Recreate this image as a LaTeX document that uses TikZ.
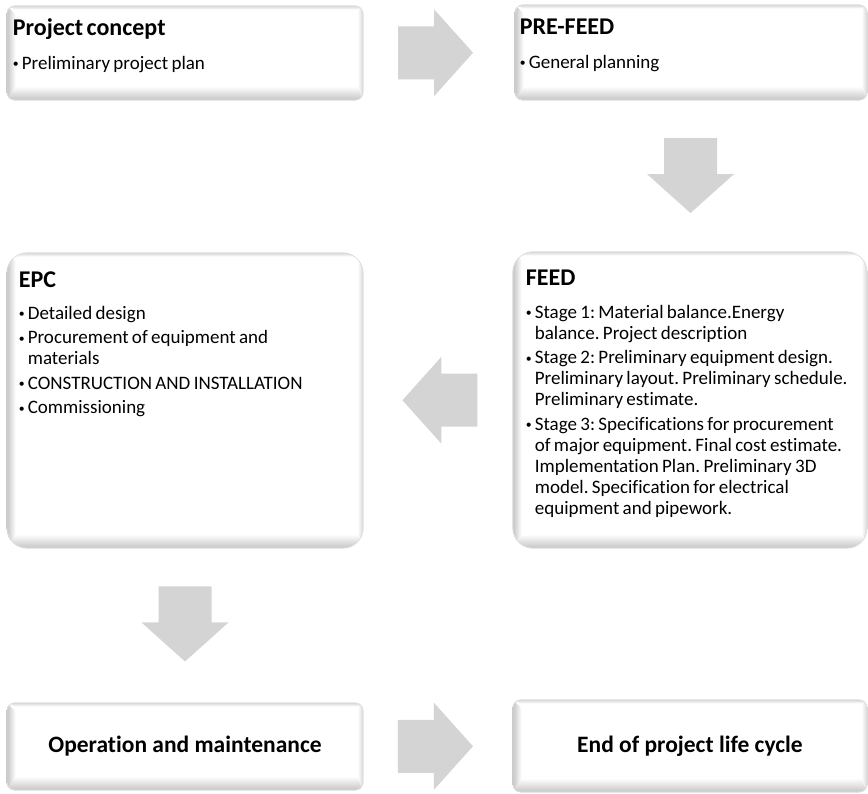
\documentclass[tikz,border=0pt]{standalone}
\usepackage{fontspec}
\setmainfont[Ligatures=NoCommon]{Carlito}
\usetikzlibrary{calc,backgrounds}

\definecolor{arrowgray}{RGB}{212,212,212}
\definecolor{bevelgray}{RGB}{196,196,196}
\definecolor{edgegray}{RGB}{222,222,222}

% text styles
\newcommand\stagetitle{\fontsize{24pt}{28pt}\selectfont\bfseries}
\newcommand\stagebody{\fontsize{19pt}{21pt}\selectfont\mdseries\frenchspacing\setlength\parskip{3.5pt}}
\newcommand\bitem[1]{\par\hangindent=9pt\hangafter=1\noindent
  \makebox[9pt][l]{\raisebox{1.7pt}{\scalebox{0.62}{\textbullet}}}#1}

% white panel with a soft bevel on its edges, drawn under the named node #1
\newcommand\bevel[2]{%
  \begin{scope}[on background layer]
    \fill[white, rounded corners=#2] (#1.north west) rectangle (#1.south east);
    \begin{scope}
      \clip[rounded corners=#2] (#1.north west) rectangle (#1.south east);
      \shade[left color=bevelgray, right color=white]
        (#1.north west) -- ($(#1.north west)+(9,9)$) -- ($(#1.south west)+(9,-14)$) -- (#1.south west) -- cycle;
      \shade[bottom color=bevelgray, top color=white]
        (#1.south west) -- ($(#1.south west)+(9,-14)$) -- ($(#1.south east)+(-6,-14)$) -- (#1.south east) -- cycle;
      \shade[top color=bevelgray!70, bottom color=white]
        (#1.north west) -- ($(#1.north west)+(9,4)$) -- ($(#1.north east)+(-5,4)$) -- (#1.north east) -- cycle;
      \shade[right color=bevelgray!70, left color=white]
        (#1.north east) -- ($(#1.north east)+(-5,4)$) -- ($(#1.south east)+(-6,-14)$) -- (#1.south east) -- cycle;
    \end{scope}
  \end{scope}}

\begin{document}
\begin{tikzpicture}[x=1pt, y=-1pt,
  stagebox/.style={rectangle, draw=edgegray, line width=0.7pt, inner sep=0pt, rounded corners=8pt},
  bigbox/.style={stagebox, rounded corners=20pt},
  content/.style={anchor=north west, inner sep=0pt, text width=400pt, align=left},
  endlabel/.style={inner sep=0pt, font=\fontsize{23.5pt}{28pt}\selectfont\bfseries},
  blockarrow/.pic={\fill[arrowgray] (-37.5,-26.5) -- (-1.5,-26.5) -- (-1.5,-43.5) -- (37.5,0)
      -- (-1.5,43.5) -- (-1.5,26.5) -- (-37.5,26.5) -- cycle;}
]
\useasboundingbox (0,0) rectangle (868,794);
\begin{scope}[on background layer]
  \fill[white] (0,0) rectangle (868,794);
\end{scope}

% stage panels
\node[stagebox, minimum width=356pt, minimum height=94pt] (pc)   at (185,53)    {};
\node[stagebox, minimum width=352pt, minimum height=95pt] (pf)   at (691,52.5)  {};
\node[bigbox,   minimum width=356pt, minimum height=295pt] (epc) at (185,400.5) {};
\node[bigbox,   minimum width=354pt, minimum height=296pt] (feed) at (690,400)  {};
\node[stagebox, minimum width=356pt, minimum height=87pt] (om)   at (185,746.5) {};
\node[stagebox, minimum width=354pt, minimum height=92pt] (eol)  at (690,746)   {};

\bevel{pc}{8pt}
\bevel{pf}{8pt}
\bevel{epc}{20pt}
\bevel{feed}{20pt}
\bevel{om}{8pt}
\bevel{eol}{8pt}

% panel texts
\node[content] (pc-txt) at ($(pc.north west)+(6,5)$)
  {\stagetitle\rule{0pt}{25pt}Project concept\par\vspace{9pt}\stagebody
   \bitem{Preliminary project plan}\par};
\node[content] (pf-txt) at ($(pf.north west)+(5,5)$)
  {\stagetitle\rule{0pt}{25pt}PRE-FEED\par\vspace{9pt}\stagebody
   \bitem{General planning}\par};
\node[content] (epc-txt) at ($(epc.north west)+(12,10)$)
  {\stagetitle\rule{0pt}{25pt}EPC\par\vspace{7pt}\stagebody
   \bitem{Detailed design}
   \bitem{Procurement of equipment and\newline materials}
   \bitem{CONSTRUCTION AND INSTALLATION}
   \bitem{Commissioning}\par};
\node[content] (feed-txt) at ($(feed.north west)+(13,9)$)
  {\stagetitle\rule{0pt}{25pt}FEED\par\vspace{8pt}\stagebody
   \bitem{Stage 1: Material balance.Energy\newline balance. Project description}
   \bitem{Stage 2: Preliminary equipment design.\newline Preliminary layout. Preliminary schedule.\newline Preliminary estimate.}
   \bitem{Stage 3: Specifications for procurement\newline of major equipment. Final cost estimate.\newline Implementation Plan. Preliminary 3D\newline model. Specification for electrical\newline equipment and pipework.}\par};
\node[endlabel] (om-txt)  at (om.center)  {Operation and maintenance};
\node[endlabel] (eol-txt) at (eol.center) {End of project life cycle};

% block arrows between the stages
\path (pc.east)   -- coordinate[pos=.477] (a1) (pf.west);
\path (pf.south)  -- coordinate[pos=.497] (a2) (feed.north);
\path (feed.west) -- coordinate[pos=.487] (a3) (epc.east);
\path (epc.south) -- coordinate[pos=.49]  (a4) (om.north);
\path (om.east)   -- coordinate[pos=.483] (a5) (eol.west);

\pic at (a1) {blockarrow};
\pic[rotate=-90] at (a2) {blockarrow};
\pic[rotate=180] at (a3) {blockarrow};
\pic[rotate=-90] at (a4) {blockarrow};
\pic at (a5) {blockarrow};
\end{tikzpicture}
\end{document}
